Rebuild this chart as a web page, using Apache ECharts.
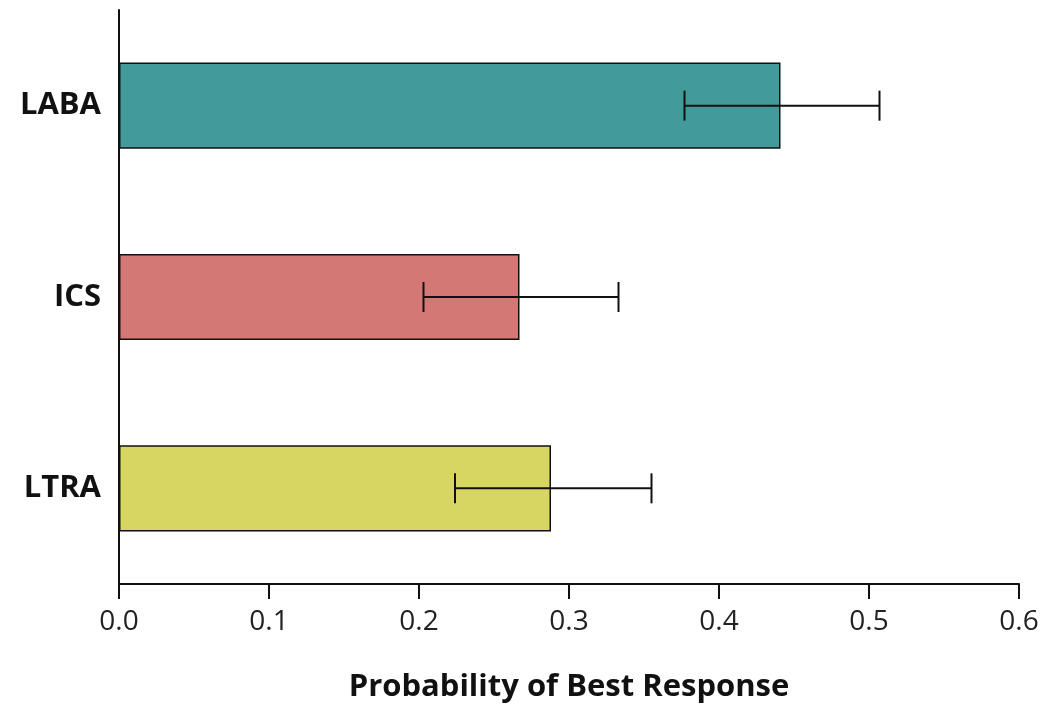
<!DOCTYPE html>
<html>
<head>
<meta charset="utf-8">
<script src="https://cdn.jsdelivr.net/npm/echarts@6/dist/echarts.min.js"></script>
<style>html,body{margin:0;padding:0;background:#fff;}#c{width:1045px;height:704px;}</style>
</head>
<body>
<div id="c"></div>
<script>
var categories = ['LABA', 'ICS', 'LTRA'];
var probabilities = [0.441, 0.267, 0.288];
var lowerCI = [0.377, 0.203, 0.224];
var upperCI = [0.507, 0.333, 0.355];
var barColors = ['#429b9a', '#d47876', '#d7d662'];
var xTicks = [0, 0.1, 0.2, 0.3, 0.4, 0.5, 0.6];

var chart = echarts.init(document.getElementById('c'));
var errData = categories.map(function (c, i) { return [i, lowerCI[i], upperCI[i]]; });

chart.setOption({
  animation: false,
  backgroundColor: '#fff',
  grid: { left: 119, right: 26, top: 10, bottom: 120, containLabel: false, outerBoundsMode: 'none' },
  xAxis: {
    type: 'value',
    min: xTicks[0], max: xTicks[xTicks.length - 1], interval: 0.1,
    name: 'Probability of Best Response',
    nameLocation: 'middle', nameGap: 88,
    nameTextStyle: { fontFamily: 'Open Sans', fontWeight: 'bold', fontSize: 31, color: '#111' },
    axisLine: { show: true, onZero: false, lineStyle: { color: '#111', width: 2 } },
    axisTick: { show: true, inside: false, length: 15, lineStyle: { color: '#111', width: 2 } },
    axisLabel: { show: true, margin: 24, fontFamily: 'Open Sans', fontSize: 28, color: '#222',
      formatter: function (v) { return v.toFixed(1); } },
    splitLine: { show: false }
  },
  yAxis: {
    type: 'category', data: categories, inverse: true,
    axisLine: { show: true, lineStyle: { color: '#111', width: 2 } },
    axisTick: { show: false },
    axisLabel: { margin: 18, fontFamily: 'Open Sans', fontWeight: 'bold', fontSize: 31, color: '#111' }
  },
  series: [
    {
      type: 'bar',
      barWidth: '45%',
      data: probabilities.map(function (v, i) {
        return { value: v, itemStyle: { color: barColors[i], borderColor: '#111', borderWidth: 1.5 } };
      }),
      z: 2
    },
    {
      type: 'custom',
      z: 5,
      data: errData,
      renderItem: function (params, api) {
        var y = api.value(0);
        var lo = api.coord([api.value(1), y]);
        var hi = api.coord([api.value(2), y]);
        var h = 15;
        var st = { stroke: '#111', lineWidth: 2 };
        return {
          type: 'group',
          children: [
            { type: 'line', shape: { x1: lo[0], y1: lo[1], x2: hi[0], y2: hi[1] }, style: st },
            { type: 'line', shape: { x1: lo[0], y1: lo[1] - h, x2: lo[0], y2: lo[1] + h }, style: st },
            { type: 'line', shape: { x1: hi[0], y1: hi[1] - h, x2: hi[0], y2: hi[1] + h }, style: st }
          ]
        };
      }
    }
  ]
});
</script>
</body>
</html>
